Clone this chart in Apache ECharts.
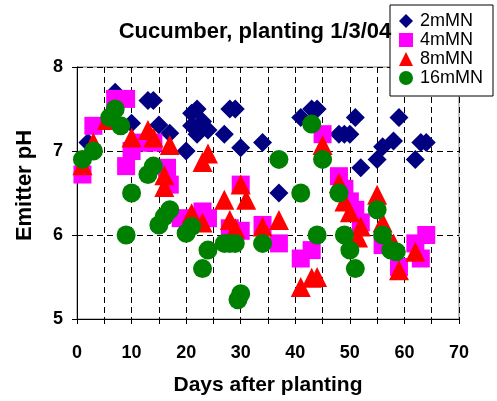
<!DOCTYPE html>
<html><head><meta charset="utf-8">
<script src="https://cdn.jsdelivr.net/npm/echarts@6/dist/echarts.min.js"></script>
<style>html,body{margin:0;padding:0;background:#fff}#c{width:497px;height:401px}</style>
</head><body><div id="c"></div>
<script>
const seriesNames = ['2mMN', '4mMN', '8mMN', '16mMN'];
const xTicks = [0, 10, 20, 30, 40, 50, 60, 70];
const yTicks = [5, 6, 7, 8];

const days2 = [2,7,10,13,14,15,17,20,21,21,22,22,23,24,27,28,29,30,34,37,41,43,44,48,49,50,51,52,55,56,58,59,62,63,64];
const ph2   = [7.1,7.7,7.33,7.6,7.6,7.31,7.21,7.0,7.45,7.3,7.5,7.2,7.35,7.25,7.2,7.5,7.5,7.04,7.1,6.5,7.4,7.5,7.5,7.2,7.2,7.2,7.4,6.8,6.9,7.05,7.12,7.4,6.9,7.1,7.1];

const days4 = [1,3,7,9,10,9,12,14,16.5,17,19,23,24,28,30,30,34,37,41,43,45,48,49,50,51,52,56,59,62,63,64];
const ph4   = [6.72,7.3,7.62,7.62,7.0,6.82,7.1,7.1,6.8,6.6,6.2,6.28,6.2,6.08,6.6,6.05,6.12,5.9,5.72,5.82,7.2,6.7,6.55,6.4,6.3,6.15,5.88,5.62,5.9,5.72,6.0];

const days8 = [1,3,5.5,10,13,14,17,16,16,21,23,24,23,27,28,29,30,31,34,37,41,43,44,45,48,49,50,52,51.5,55,56,58,59,62];
const ph8   = [6.83,7.1,7.37,7.16,7.25,7.16,7.07,6.71,6.57,6.26,6.87,6.97,6.15,6.42,6.18,6.08,6.6,6.42,6.1,6.18,5.38,5.49,5.5,7.07,6.62,6.4,6.27,6.1,5.97,6.48,6.15,5.9,5.58,5.8];

const days16 = [1,3,6,7,8,10,9,13,14,15,16,17,20,21,23,24,27,28,29,30,29.5,34,37,41,43,44,45,48,49,50,51,55,56,57.5,58.5];
const ph16   = [6.9,7.0,7.4,7.5,7.3,6.5,6.0,6.72,6.82,6.12,6.22,6.3,6.02,6.1,5.6,5.82,5.9,5.9,5.9,5.3,5.23,5.9,6.9,6.5,7.32,6.0,6.9,6.5,6.0,5.82,5.6,6.3,6.0,5.82,5.8];

function pairs(xs, ys) { return xs.map((x, i) => [x, ys[i]]); }

const FONT = '"Liberation Sans", Arial, sans-serif';
const chart = echarts.init(document.getElementById('c'), null, {renderer: 'canvas'});
const dash = [6, 4];

chart.setOption({
  backgroundColor: '#fff',
  animation: false,
  title: {
    text: 'Cucumber, planting 1/3/04',
    left: 250, top: 16, textAlign: 'center',
    textStyle: {fontFamily: FONT, fontSize: 22, fontWeight: 'bold', color: '#000'}
  },
  legend: {
    orient: 'vertical', left: 390, top: 5,
    padding: [7, 10, 9, 9],
    borderColor: '#000', borderWidth: 1, backgroundColor: '#fff',
    itemWidth: 14, itemHeight: 14, itemGap: 1,
    textStyle: {fontFamily: FONT, fontSize: 18, color: '#000', lineHeight: 18, padding: [0, 0, 0, 2]},
    data: [
      {name: seriesNames[0], icon: 'diamond'},
      {name: seriesNames[1], icon: 'rect'},
      {name: seriesNames[2], icon: 'triangle'},
      {name: seriesNames[3], icon: 'circle'}
    ]
  },
  grid: {left: 77, right: 38, top: 67, bottom: 82, containLabel: false, outerBoundsMode: 'none',
         show: true, borderColor: '#808080', borderWidth: 1},
  xAxis: {
    type: 'value', min: xTicks[0], max: xTicks[xTicks.length - 1], interval: 10,
    name: 'Days after planting', nameLocation: 'middle', nameGap: 56,
    nameTextStyle: {fontFamily: FONT, fontSize: 21, fontWeight: 'bold', color: '#000'},
    axisLine: {show: true, onZero: false, lineStyle: {color: '#000', width: 1}},
    axisTick: {show: true, length: 5, lineStyle: {color: '#000'}},
    minorTick: {show: true, splitNumber: 2, length: 5, lineStyle: {color: '#000'}},
    axisLabel: {margin: 25, fontFamily: FONT, fontSize: 18, fontWeight: 'bold', color: '#000'},
    splitLine: {show: true, lineStyle: {color: '#000', type: dash, width: 1}},
    minorSplitLine: {show: true, lineStyle: {color: '#000', type: dash, width: 1}}
  },
  yAxis: {
    type: 'value', min: yTicks[0], max: yTicks[yTicks.length - 1], interval: 1,
    name: 'Emitter pH', nameLocation: 'middle', nameGap: 41, nameRotate: 90,
    nameTextStyle: {fontFamily: FONT, fontSize: 22, fontWeight: 'bold', color: '#000', padding: [0, 0, 0, 15]},
    axisLine: {show: true, onZero: false, lineStyle: {color: '#000', width: 1}},
    axisTick: {show: true, length: 5, lineStyle: {color: '#000'}},
    axisLabel: {margin: 14, fontFamily: FONT, fontSize: 18, fontWeight: 'bold', color: '#000'},
    splitLine: {show: true, lineStyle: {color: '#000', type: dash, width: 1}}
  },
  series: [
    {name: seriesNames[0], type: 'scatter', symbol: 'diamond', symbolSize: [19, 19],
     itemStyle: {color: '#000080', opacity: 1}, data: pairs(days2, ph2)},
    {name: seriesNames[1], type: 'scatter', symbol: 'rect', symbolSize: 18,
     itemStyle: {color: '#FF00FF', opacity: 1}, data: pairs(days4, ph4)},
    {name: seriesNames[2], type: 'scatter', symbol: 'triangle', symbolSize: [20, 20],
     itemStyle: {color: '#FF0000', opacity: 1}, data: pairs(days8, ph8)},
    {name: seriesNames[3], type: 'scatter', symbol: 'circle', symbolSize: 19,
     itemStyle: {color: '#008000', opacity: 1}, data: pairs(days16, ph16)}
  ]
});
</script>
</body></html>
